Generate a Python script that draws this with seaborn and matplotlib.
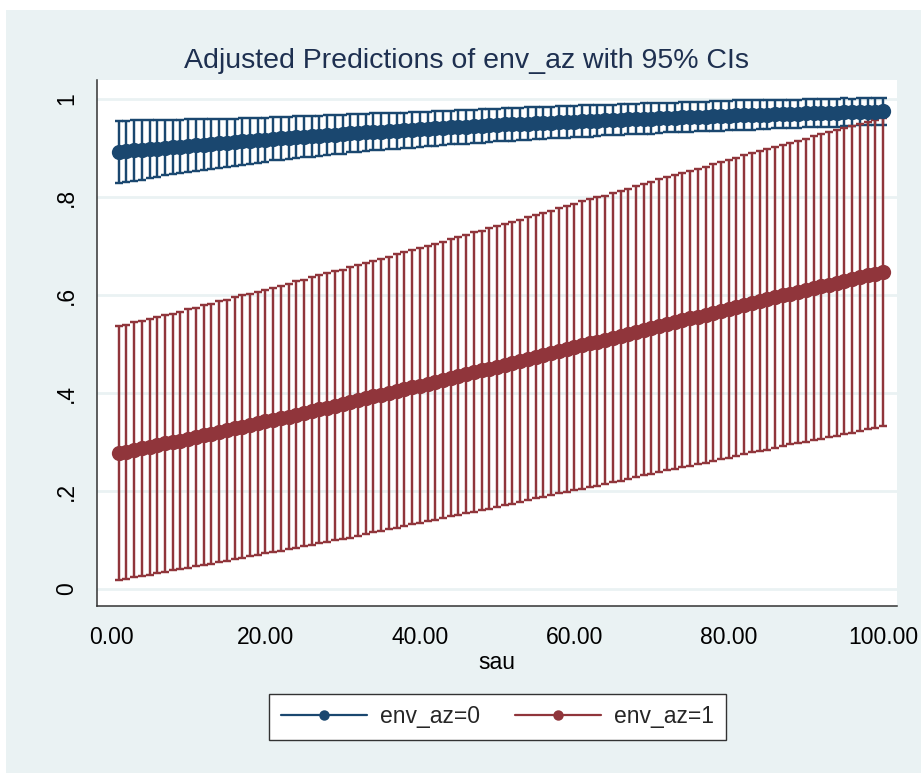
import numpy as np
import pandas as pd
import matplotlib
matplotlib.use("Agg")
import matplotlib.pyplot as plt
from matplotlib.lines import Line2D
import seaborn as sns

# ---------------- data ----------------
sau = list(range(1, 101))

est0 = [0.892, 0.893, 0.895, 0.896, 0.898, 0.899, 0.901, 0.902, 0.903, 0.905,
        0.906, 0.907, 0.909, 0.910, 0.911, 0.912, 0.914, 0.915, 0.916, 0.917,
        0.919, 0.920, 0.921, 0.922, 0.923, 0.924, 0.925, 0.926, 0.927, 0.928,
        0.930, 0.931, 0.932, 0.933, 0.933, 0.934, 0.935, 0.936, 0.937, 0.938,
        0.939, 0.940, 0.941, 0.942, 0.943, 0.943, 0.944, 0.945, 0.946, 0.947,
        0.948, 0.948, 0.949, 0.950, 0.951, 0.951, 0.952, 0.953, 0.953, 0.954,
        0.955, 0.955, 0.956, 0.957, 0.957, 0.958, 0.959, 0.959, 0.960, 0.960,
        0.961, 0.962, 0.962, 0.963, 0.963, 0.964, 0.964, 0.965, 0.965, 0.966,
        0.967, 0.967, 0.967, 0.968, 0.968, 0.969, 0.969, 0.970, 0.970, 0.971,
        0.971, 0.972, 0.972, 0.972, 0.973, 0.973, 0.974, 0.974, 0.974, 0.975]

ci0 = [0.064, 0.063, 0.062, 0.061, 0.060, 0.058, 0.057, 0.056, 0.055, 0.054,
       0.053, 0.052, 0.051, 0.050, 0.049, 0.048, 0.048, 0.047, 0.046, 0.045,
       0.044, 0.044, 0.043, 0.043, 0.042, 0.042, 0.041, 0.041, 0.040, 0.040,
       0.039, 0.039, 0.038, 0.038, 0.038, 0.037, 0.037, 0.036, 0.036, 0.035,
       0.035, 0.035, 0.035, 0.034, 0.034, 0.034, 0.034, 0.034, 0.033, 0.033,
       0.033, 0.033, 0.033, 0.033, 0.033, 0.032, 0.032, 0.032, 0.032, 0.032,
       0.032, 0.032, 0.032, 0.031, 0.031, 0.031, 0.031, 0.031, 0.031, 0.031,
       0.030, 0.030, 0.030, 0.030, 0.030, 0.030, 0.030, 0.030, 0.030, 0.030,
       0.030, 0.030, 0.030, 0.030, 0.029, 0.029, 0.029, 0.029, 0.029, 0.029,
       0.029, 0.029, 0.029, 0.029, 0.029, 0.028, 0.028, 0.028, 0.028, 0.028]

est1 = [0.277, 0.280, 0.284, 0.287, 0.290, 0.294, 0.297, 0.300, 0.303, 0.307,
        0.310, 0.314, 0.317, 0.321, 0.324, 0.328, 0.331, 0.335, 0.338, 0.342,
        0.345, 0.348, 0.352, 0.356, 0.359, 0.363, 0.367, 0.370, 0.374, 0.377,
        0.381, 0.385, 0.389, 0.393, 0.396, 0.400, 0.404, 0.408, 0.412, 0.415,
        0.419, 0.423, 0.427, 0.431, 0.435, 0.439, 0.443, 0.446, 0.450, 0.454,
        0.458, 0.462, 0.466, 0.470, 0.474, 0.478, 0.482, 0.486, 0.490, 0.494,
        0.498, 0.502, 0.505, 0.509, 0.513, 0.517, 0.521, 0.525, 0.529, 0.533,
        0.537, 0.541, 0.545, 0.549, 0.553, 0.556, 0.560, 0.564, 0.568, 0.572,
        0.576, 0.580, 0.584, 0.587, 0.591, 0.595, 0.599, 0.603, 0.606, 0.610,
        0.614, 0.618, 0.621, 0.625, 0.629, 0.632, 0.636, 0.640, 0.643, 0.647]

ci1 = [0.259, 0.259, 0.260, 0.260, 0.261, 0.261, 0.262, 0.262, 0.263, 0.264,
       0.264, 0.265, 0.265, 0.266, 0.266, 0.267, 0.268, 0.268, 0.269, 0.269,
       0.270, 0.270, 0.271, 0.272, 0.272, 0.273, 0.273, 0.274, 0.274, 0.275,
       0.276, 0.276, 0.277, 0.277, 0.278, 0.278, 0.279, 0.280, 0.280, 0.281,
       0.281, 0.282, 0.282, 0.283, 0.284, 0.284, 0.285, 0.285, 0.286, 0.286,
       0.287, 0.288, 0.288, 0.289, 0.289, 0.290, 0.290, 0.291, 0.292, 0.292,
       0.293, 0.293, 0.294, 0.294, 0.295, 0.296, 0.296, 0.297, 0.297, 0.298,
       0.299, 0.299, 0.300, 0.300, 0.301, 0.301, 0.302, 0.303, 0.303, 0.304,
       0.304, 0.305, 0.305, 0.306, 0.307, 0.307, 0.308, 0.308, 0.309, 0.309,
       0.310, 0.311, 0.311, 0.312, 0.312, 0.313, 0.313, 0.314, 0.315, 0.315]

groups = ["env_az=0", "env_az=1"]
x_ticks = [0, 20, 40, 60, 80, 100]
x_tick_labels = ["0.00", "20.00", "40.00", "60.00", "80.00", "100.00"]
y_ticks = [0, 0.2, 0.4, 0.6, 0.8, 1.0]
y_tick_labels = ["0", ".2", ".4", ".6", ".8", "1"]
title = "Adjusted Predictions of env_az with 95% CIs"
x_label = "sau"

# ---------------- style ----------------
BG = "#eaf2f3"
NAVY = "#1a476f"
MAROON = "#90353b"
colors = [NAVY, MAROON]

sns.set_theme(style="white")
plt.rcParams["font.family"] = ["Liberation Sans", "DejaVu Sans"]

df = pd.DataFrame({
    "sau": sau * 2,
    "margin": est0 + est1,
    "ci": ci0 + ci1,
    "group": [groups[0]] * len(sau) + [groups[1]] * len(sau),
})

fig = plt.figure(figsize=(9.21, 7.73), dpi=100, facecolor=BG)
# thin white borders at top / left (cropped screenshot edges)
fig.patches.append(plt.Rectangle((0, 1 - 10 / 773), 1, 10 / 773, transform=fig.transFigure,
                                 facecolor="white", edgecolor="none", zorder=0))
fig.patches.append(plt.Rectangle((0, 0), 6 / 921, 1, transform=fig.transFigure,
                                 facecolor="white", edgecolor="none", zorder=0))

ax = fig.add_axes([97 / 921, 1 - 606 / 773, 800 / 921, 526 / 773])
ax.set_facecolor("white")

# CI caps (rcap)
for g, c in zip(groups, colors):
    sub = df[df["group"] == g]
    ax.errorbar(sub["sau"], sub["margin"], yerr=sub["ci"], fmt="none",
                ecolor=c, elinewidth=1.75, capsize=2.9, capthick=1.75, zorder=2)

# estimates
sns.lineplot(data=df, x="sau", y="margin", hue="group", palette=colors,
             marker="o", markersize=11, markeredgewidth=0, linewidth=2.5,
             legend=False, ax=ax, zorder=3)

ax.set_xlim(-1.81, 101.8)
ax.set_ylim(-0.0347, 1.0388)
ax.set_xticks(x_ticks)
ax.set_xticklabels(x_tick_labels, fontsize=16.5)
ax.set_yticks(y_ticks)
ax.set_yticklabels(y_tick_labels, fontsize=16.5, rotation=90, va="center")
ax.tick_params(axis="both", direction="out", length=7.5, width=1.1, color="#333333",
               labelcolor="black", pad=6)
ax.tick_params(axis="x", pad=7)
ax.grid(axis="y", color=BG, linewidth=2)
ax.grid(axis="x", visible=False)
ax.set_axisbelow(True)
for s in ["top", "right"]:
    ax.spines[s].set_visible(False)
for s in ["left", "bottom"]:
    ax.spines[s].set_color("#333333")
    ax.spines[s].set_linewidth(1.1)

ax.set_xlabel(x_label, fontsize=16.5, labelpad=1, color="black")
ax.set_ylabel("")

fig.text(466 / 921, 1 - 61 / 773, title, ha="center", va="center",
         fontsize=20.5, color="#1e3050")

handles = [Line2D([0], [0], color=c, linewidth=1.6, marker="o", markersize=7.5,
                  markeredgewidth=0) for c in colors]
leg = fig.legend(handles, groups, loc="center", bbox_to_anchor=(497.5 / 921, 1 - 717 / 773),
                 ncol=2, frameon=True, fancybox=False, fontsize=16.5,
                 handlelength=3.75, handletextpad=0.6, columnspacing=1.5,
                 borderpad=0.5, edgecolor="#333333", facecolor="white", framealpha=1)
leg.get_frame().set_linewidth(1.0)

fig.savefig("out.png", dpi=100, facecolor=BG)
